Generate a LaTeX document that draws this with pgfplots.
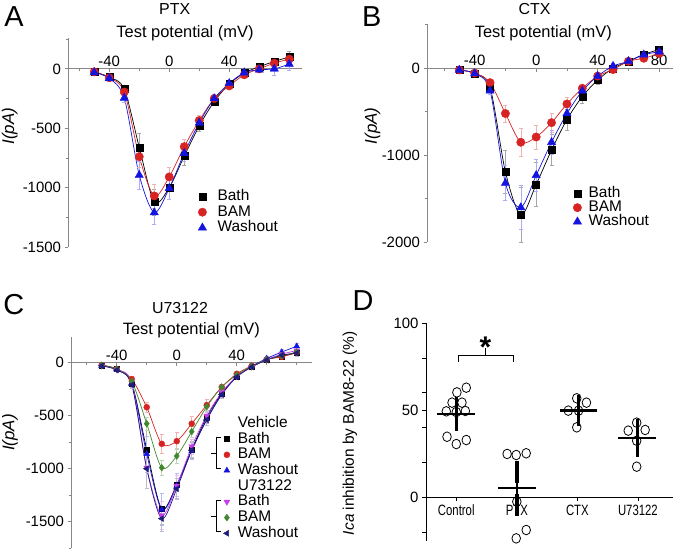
\documentclass[border=0pt]{standalone}
\usepackage{pgfplots}
\pgfplotsset{compat=1.18}
\usepackage{pgfplotstable}
\usepackage{fontspec}
\setmainfont{Liberation Sans}
\newfontfamily\narrowfont[FakeStretch=0.76]{Liberation Sans}
\newcommand\fs[1]{\fontsize{#1}{#1}\selectfont}

\definecolor{cBath}{RGB}{0,0,0}
\definecolor{cBAM}{RGB}{215,35,35}
\definecolor{cWash}{RGB}{20,20,225}
\definecolor{cUBath}{RGB}{200,60,235}
\definecolor{cUBAM}{RGB}{65,135,45}
\definecolor{cUWash}{RGB}{30,30,120}
\definecolor{axgray}{RGB}{135,135,135}

\pgfplotstableread{
x bath bathe bam bame wash washe
-50 -25 12 -25 10 -30 12
-40 -70 15 -75 15 -80 18
-30 -170 30 -195 30 -245 35
-20 -660 115 -740 90 -895 120
-10 -1120 110 -1070 100 -1210 100
0 -1000 95 -910 80 -1005 90
10 -735 75 -655 60 -710 65
20 -480 50 -435 45 -455 45
30 -275 35 -250 30 -250 35
40 -128 25 -143 25 -122 25
50 -35 20 -50 20 -32 20
60 18 20 0 20 -8 25
70 62 25 48 25 0 55
80 100 45 82 40 40 55
}\tabA

\pgfplotstableread{
x bath bathe bam bame wash washe
-50 -20 15 -20 15 -20 15
-40 -60 20 -55 20 -60 20
-30 -220 40 -165 30 -258 45
-20 -1190 250 -520 100 -1320 200
-10 -1685 320 -850 160 -1600 250
0 -1335 250 -790 140 -1230 180
10 -940 180 -625 110 -850 140
20 -590 120 -410 80 -520 100
30 -325 80 -230 50 -260 60
40 -135 50 -90 40 -90 40
50 0 30 -15 30 25 30
60 80 25 80 25 80 25
70 160 25 115 25 155 25
80 215 30 170 30 190 30
}\tabB

\pgfplotstableread{
x vb vbe vm vme vw vwe ub ube um ume uw uwe
-50 -25 10 -25 10 -30 10 -30 10 -25 10 -30 10
-40 -60 15 -60 15 -65 15 -65 15 -60 15 -70 15
-30 -195 30 -155 25 -200 30 -190 30 -175 25 -210 30
-20 -820 180 -420 50 -860 170 -990 190 -575 60 -1000 180
-10 -1378 150 -765 90 -1385 150 -1440 130 -990 70 -1470 120
0 -1150 110 -740 80 -1160 120 -1160 100 -880 70 -1190 100
10 -820 80 -575 70 -830 80 -790 70 -650 50 -825 70
20 -510 60 -400 55 -530 60 -500 55 -415 45 -540 55
30 -290 35 -230 30 -300 35 -280 35 -230 30 -300 35
40 -130 25 -105 20 -130 25 -130 25 -115 20 -135 25
50 -40 20 -30 20 -35 20 -40 20 -35 20 -40 20
60 30 20 30 20 40 20 30 20 30 20 25 20
70 60 25 55 25 100 25 80 25 65 25 70 25
80 95 30 95 30 155 30 115 30 100 30 90 30
}\tabC

\pgfplotstableread{
x y
1.165 63
1.01 60.3
0.93 54.4
1.094 54.4
0.835 49.4
1.0 49
1.15 49.6
0.847 34.8
1.0 30.6
1.165 32.9
1.84 24.9
1.99 24.3
2.155 25.3
2.0 -2.5
2.155 -18.8
1.99 -23.6
2.99 56.9
3.15 54.4
2.85 49.8
3.02 49.8
2.99 40.2
3.98 42.9
3.84 38.3
4.12 38.7
3.98 32.5
3.98 17.6
}\tabDpts

\pgfplotstableread{
x y e
1.0 47.9 3.4
2.0 5.2 9.5
3.02 49.9 2.6
3.99 34.2 4.7
}\tabDmean

\pgfplotsset{
  ivaxis/.style={
    scale only axis, anchor=south west,
    axis x line*=middle, axis y line*=left,
    hide obscured x ticks=false, hide obscured y ticks=false,
    axis line style={axgray, line width=0.9bp},
    every tick/.style={axgray, line width=0.8bp},
    major tick length=3.5bp, minor tick length=2.5bp,
    tick align=outside,
    xtick={-40,0,40}, minor xtick={-60,-20,20,60,80},
    tick label style={font=\fs{15}, /pgf/number format/assume math mode=true, /pgf/number format/1000 sep={}},
    xticklabel style={anchor=south, yshift=2.5bp},
    legend cell align=left,
    legend style={draw=none, fill=none, inner sep=0pt, anchor=north west,
      font=\fs{15.5}, nodes={inner sep=0pt, text height=11bp, text depth=3bp}},
    legend image code/.code={\draw[mark repeat=2,mark phase=2,##1] plot coordinates {(-4bp,0bp)(0bp,0bp)(4bp,0bp)};},
  },
  fit/.style={line width=0.7bp, smooth, forget plot},
  ebar/.style={error bars/.cd, y dir=both, y explicit,
    error bar style={#1, line width=0.6bp},
    error mark options={#1, rotate=90, mark size=2bp, line width=0.6bp}},
}

\begin{document}
\begin{tikzpicture}[x=1bp,y=1bp]
\useasboundingbox (0,0) rectangle (677,552);

% ---------------- Panel A ----------------
\begin{axis}[ivaxis, at={(68bp,305bp)}, width=234bp, height=209bp,
  xmin=-67.5, xmax=88.5, ymin=-1500, ymax=260,
  ytick={-1500,-1000,-500,0}, minor ytick={-1250,-750,-250,250},
  legend style={at={(0.5556,0.2751)}, column sep=11bp, row sep=1.5bp}]
\addplot[fit, cBath] table[x=x,y=bath]{\tabA};
\addplot[fit, cBAM] table[x=x,y=bam]{\tabA};
\addplot[fit, cWash] table[x=x,y=wash]{\tabA};
\addplot[only marks, mark=square*, mark size=3.5bp, mark options={draw=cBath, fill=cBath}, ebar=black!35]
  table[x=x,y=bath,y error=bathe]{\tabA};
\addlegendentry{Bath}
\addplot[only marks, mark=*, mark size=4.2bp, mark options={draw=cBAM, fill=cBAM}, ebar=cBAM!35]
  table[x=x,y=bam,y error=bame]{\tabA};
\addlegendentry{BAM}
\addplot[only marks, mark=triangle*, mark size=4.8bp, mark options={draw=cWash, fill=cWash}, ebar=cWash!35]
  table[x=x,y=wash,y error=washe]{\tabA};
\addlegendentry{Washout}
\end{axis}

% ---------------- Panel B ----------------
\begin{axis}[ivaxis, at={(427bp,309.7bp)}, width=246bp, height=218.3bp,
  xmin=-71, xmax=89, ymin=-2000, ymax=509,
  xtick={-40,0,40,80}, minor xtick={-60,-20,20,60},
  ytick={-2000,-1000,0}, minor ytick={-1500,-500,500},
  legend style={at={(0.5935,0.2556)}, column sep=7bp, row sep=0bp}]
\addplot[fit, cBath] table[x=x,y=bath]{\tabB};
\addplot[fit, cBAM] table[x=x,y=bam]{\tabB};
\addplot[fit, cWash] table[x=x,y=wash]{\tabB};
\addplot[only marks, mark=square*, mark size=3.5bp, mark options={draw=cBath, fill=cBath}, ebar=black!35]
  table[x=x,y=bath,y error=bathe]{\tabB};
\addlegendentry{Bath}
\addplot[only marks, mark=*, mark size=4.2bp, mark options={draw=cBAM, fill=cBAM}, ebar=cBAM!35]
  table[x=x,y=bam,y error=bame]{\tabB};
\addlegendentry{BAM}
\addplot[only marks, mark=triangle*, mark size=4.8bp, mark options={draw=cWash, fill=cWash}, ebar=cWash!35]
  table[x=x,y=wash,y error=washe]{\tabB};
\addlegendentry{Washout}
\end{axis}

% ---------------- Panel C ----------------
\begin{axis}[ivaxis, at={(71bp,3.7bp)}, width=240.7bp, height=211.6bp,
  xmin=-70.5, xmax=90, ymin=-1750, ymax=245,
  ytick={-1500,-1000,-500,0}, minor ytick={-1750,-1250,-750,-250,250},
  legend style={at={(0.6327,0.6243)}, column sep=8bp, row sep=1.7bp}]
\addplot[fit, cBath] table[x=x,y=vb]{\tabC};
\addplot[fit, cBAM] table[x=x,y=vm]{\tabC};
\addplot[fit, cWash] table[x=x,y=vw]{\tabC};
\addplot[fit, cUBath] table[x=x,y=ub]{\tabC};
\addplot[fit, cUBAM] table[x=x,y=um]{\tabC};
\addplot[fit, cUWash] table[x=x,y=uw]{\tabC};
\addlegendimage{empty legend}
\addlegendentry{Vehicle}
\addplot[only marks, mark=square*, mark size=2.6bp, mark options={draw=cBath, fill=cBath}, ebar=black!30]
  table[x=x,y=vb,y error=vbe]{\tabC};
\addlegendentry{Bath}
\addplot[only marks, mark=*, mark size=3bp, mark options={draw=cBAM, fill=cBAM}, ebar=cBAM!35]
  table[x=x,y=vm,y error=vme]{\tabC};
\addlegendentry{BAM}
\addplot[only marks, mark=triangle*, mark size=3.4bp, mark options={draw=cWash, fill=cWash}, ebar=cWash!30]
  table[x=x,y=vw,y error=vwe]{\tabC};
\addlegendentry{Washout}
\addlegendimage{empty legend}
\addlegendentry{U73122}
\addplot[only marks, mark=triangle*, mark size=3.4bp, mark options={draw=cUBath, fill=cUBath, rotate=180}, ebar=cUBath!35]
  table[x=x,y=ub,y error=ube]{\tabC};
\addlegendentry{Bath}
\addplot[only marks, mark=diamond*, mark size=3.4bp, mark options={draw=cUBAM, fill=cUBAM}, ebar=cUBAM!35]
  table[x=x,y=um,y error=ume]{\tabC};
\addlegendentry{BAM}
\addplot[only marks, mark=triangle*, mark size=3.4bp, mark options={draw=cUWash, fill=cUWash, rotate=90}, ebar=cUWash!30]
  table[x=x,y=uw,y error=uwe]{\tabC};
\addlegendentry{Washout}
\end{axis}

% ---------------- Panel D ----------------
\begin{axis}[scale only axis, anchor=south west, at={(426bp,11.2bp)}, width=247bp, height=217.5bp,
  xmin=0.5, xmax=4.58, ymin=-25, ymax=100,
  axis x line*=middle, axis y line*=left,
  hide obscured x ticks=false, hide obscured y ticks=false,
  axis line style={black, line width=0.9bp},
  every tick/.style={black, line width=0.8bp},
  major tick length=4bp, minor tick length=4bp, tick align=outside,
  xtick={1,2,3,4}, xticklabels={Control,PTX,CTX,U73122},
  ytick={0,50,100}, minor ytick={-20,20,40,60,80},
  xticklabel style={font=\narrowfont\fs{15}},
  yticklabel style={font=\fs{15}, /pgf/number format/assume math mode=true},
  clip=false]
\addplot[only marks, mark=o, mark size=4.3bp, mark options={black, line width=0.8bp, fill=white, yscale=1.12}]
  table[x=x,y=y]{\tabDpts};
\addplot[only marks, mark=-, mark size=18.8bp, mark options={black, line width=2.2bp},
  error bars/.cd, y dir=both, y explicit,
  error bar style={black, line width=2bp},
  error mark options={black, mark size=10.9bp, line width=3.4bp}]
  table[x=x,y=y,y error=e]{\tabDmean};
\draw[black, line width=0.9bp] (axis cs:1.04,77.9) -- (axis cs:1.04,81.8) -- (axis cs:1.95,81.8) -- (axis cs:1.95,77.9);
\draw[black, line width=0.9bp] (axis cs:1.48,81.8) -- (axis cs:1.48,85.6);
\node[anchor=base, font=\bfseries\fs{30}, inner sep=0pt] at (axis cs:1.48,80.3) {*};
\end{axis}

% ---------------- Annotations ----------------
\node[font=\fs{29}] at (14,535) {A};
\node[font=\fs{29}] at (371.7,535.3) {B};
\node[font=\fs{29}] at (13.7,247) {C};
\node[font=\fs{29}] at (363,251.2) {D};
\node[font=\fs{16}] at (174.7,543.3) {PTX};
\node[font=\fs{16}] at (534.5,543.3) {CTX};
\node[font=\fs{16}] at (180,243.7) {U73122};
\node[font=\fs{16.5}] at (185,518.5) {Test potential (mV)};
\node[font=\fs{16.5}] at (543.3,518.7) {Test potential (mV)};
\node[font=\fs{16.5}] at (191.3,222) {Test potential (mV)};
\node[font=\fs{17}, rotate=90] at (9.7,425.7) {\textit{I(pA)}};
\node[font=\fs{17}, rotate=90] at (372.5,426) {\textit{I(pA)}};
\node[font=\fs{17}, rotate=90] at (10,119.5) {\textit{I(pA)}};
\node[font=\fs{15.5}, rotate=90] at (350,118.7) {\textit{Ica} inhibition by BAM8-22 (\%)};
\draw[black, line width=0.8bp] (220.5,114.6) -- (216,114.6) -- (216,83.2) -- (220.5,83.2);
\draw[black, line width=0.8bp] (216,98.9) -- (210.5,98.9);
\draw[black, line width=0.8bp] (220.5,51.7) -- (216,51.7) -- (216,20.3) -- (220.5,20.3);
\draw[black, line width=0.8bp] (216,36) -- (210.5,36);
\end{tikzpicture}
\end{document}
